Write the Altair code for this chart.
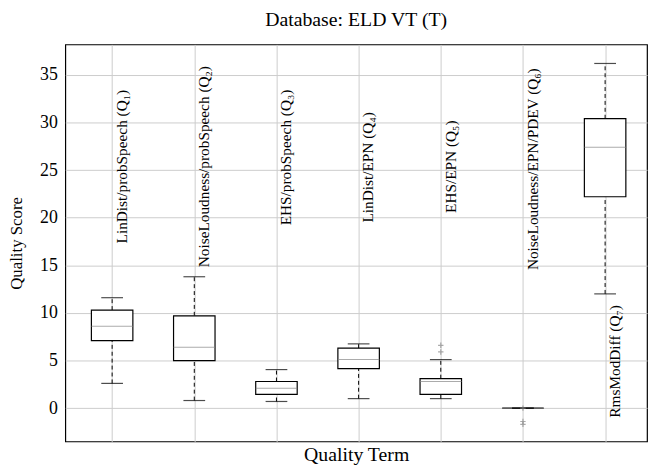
import altair as alt
import pandas as pd

positions = [1, 2, 3, 4, 5, 6, 7]
labels = [
    "LinDist/probSpeech (Q₁)",
    "NoiseLoudness/probSpeech (Q₂)",
    "EHS/probSpeech (Q₃)",
    "LinDist/EPN (Q₄)",
    "EHS/EPN (Q₅)",
    "NoiseLoudness/EPN/PDEV (Q₆)",
    "RmsModDiff (Q₇)",
]
whisker_low = [2.6, 0.8, 0.7, 1.0, 1.0, 0.0, 12.0]
box_low = [7.1, 5.0, 1.45, 4.15, 1.45, 0.0, 22.2]
median = [8.6, 6.4, 2.1, 5.1, 2.8, 0.0, 27.4]
box_high = [10.3, 9.7, 2.8, 6.3, 3.1, 0.0, 30.4]
whisker_high = [11.6, 13.8, 4.05, 6.75, 5.1, 0.0, 36.2]
label_y = [17.3, 14.8, 19.2, 19.5, 20.5, 14.5, -1.0]

outlier_pos = [5, 5, 6, 6, 6]
outlier_val = [6.6, 5.9, 0.0, -1.4, -1.7]

df = pd.DataFrame({
    "pos": positions, "label": labels, "wlo": whisker_low, "blo": box_low,
    "med": median, "bhi": box_high, "whi": whisker_high, "ly": label_y,
})
out = pd.DataFrame({"pos": outlier_pos, "val": outlier_val})

SERIF = "Liberation Serif"

xs = alt.Scale(domain=[0.49, 7.45], nice=False, zero=False)
ys = alt.Scale(domain=[-3.5, 38.2], nice=False, zero=False)

xax = alt.Axis(values=positions, labels=False, ticks=False, domain=False, grid=True,
               gridColor="#cccccc", title="Quality Term", titleFont=SERIF,
               titleFontSize=20, titleFontWeight="normal", titleColor="black",
               titlePadding=3)
yax = alt.Axis(values=[0, 5, 10, 15, 20, 25, 30, 35], ticks=False, domain=False,
               grid=True, gridColor="#cccccc", labelFont=SERIF, labelFontSize=18,
               labelColor="black", labelPadding=8, title="Quality Score",
               titleFont=SERIF, titleFontSize=17, titleFontWeight="normal",
               titleColor="black", titlePadding=14)

base = alt.Chart(df)

x_enc = alt.X("pos:Q", scale=xs, axis=xax)

w_low = base.mark_rule(color="black", strokeDash=[4, 3], strokeWidth=1).encode(
    x=x_enc, y=alt.Y("wlo:Q", scale=ys, axis=yax), y2="blo:Q")
w_high = base.mark_rule(color="black", strokeDash=[4, 3], strokeWidth=1).encode(
    x="pos:Q", y="bhi:Q", y2="whi:Q")
box = base.mark_bar(size=42, fill="white", stroke="black", strokeWidth=1.2).encode(
    x="pos:Q", y="blo:Q", y2="bhi:Q")
med = base.mark_tick(orient="horizontal", size=42, thickness=1, color="#888888").encode(
    x="pos:Q", y="med:Q")
cap_lo = base.mark_tick(orient="horizontal", size=22, thickness=1.2, color="black").encode(
    x="pos:Q", y="wlo:Q")
cap_hi = base.mark_tick(orient="horizontal", size=22, thickness=1.2, color="black").encode(
    x="pos:Q", y="whi:Q")
pts = alt.Chart(out).mark_point(shape="M-1,0L1,0M0,-1L0,1", size=30, filled=False,
                                color="#888888", strokeWidth=1.2).encode(
    x="pos:Q", y="val:Q")
txt = base.mark_text(angle=270, align="left", baseline="top", dy=3, font=SERIF,
                     fontSize=15.5, color="black").encode(
    x="pos:Q", y="ly:Q", text="label:N")

chart = alt.layer(w_low, w_high, box, med, cap_lo, cap_hi, pts, txt).properties(
    width=589, height=402,
    title=alt.TitleParams("Database: ELD VT (T)", font=SERIF, fontSize=20,
                          fontWeight="normal", color="black", offset=15),
    autosize=alt.AutoSizeParams(type="none"),
    padding={"left": 58, "top": 34, "right": 2, "bottom": 25},
    background="white",
).configure_view(stroke="black", strokeWidth=1.2)

chart.save("out.html", embed_options={"renderer": "svg", "actions": False})
